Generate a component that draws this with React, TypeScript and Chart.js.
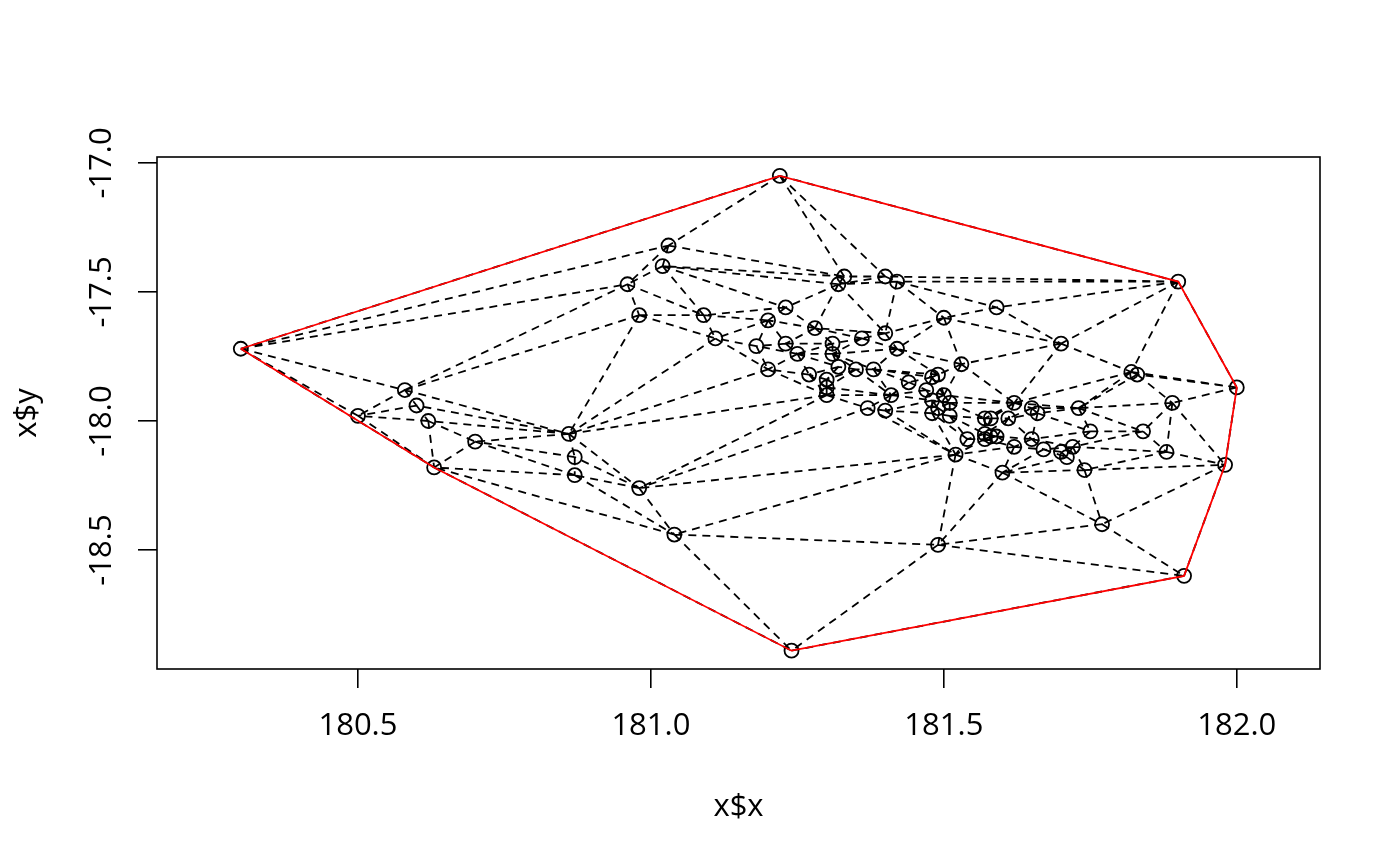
import React, { useEffect, useRef } from "react";
import { Chart, registerables } from "chart.js";
Chart.register(...registerables);

// Point coordinates (x$x, x$y)
const xs = [
  180.30, 180.50, 180.58, 180.60, 180.62, 180.63, 180.70, 180.86, 180.87, 180.87,
  180.96, 180.98, 181.02, 181.03, 180.98, 181.04, 181.09, 181.11, 181.18, 181.20,
  181.23, 181.22, 181.23, 181.25, 181.20, 181.27, 181.28, 181.24, 181.31, 181.31,
  181.32, 181.30, 181.30, 181.30, 181.32, 181.33, 181.35, 181.36, 181.38, 181.37,
  181.40, 181.42, 181.40, 181.42, 181.40, 181.41, 181.44, 181.50, 181.59, 181.53,
  181.48, 181.49, 181.47, 181.50, 181.48, 181.51, 181.48, 181.49, 181.51, 181.54,
  181.52, 181.49, 181.57, 181.58, 181.61, 181.57, 181.58, 181.57, 181.59, 181.60,
  181.62, 181.65, 181.66, 181.62, 181.65, 181.67, 181.70, 181.70, 181.72, 181.71,
  181.73, 181.74, 181.75, 181.77, 181.82, 181.83, 181.84, 181.88, 181.89, 181.90,
  181.91, 181.98, 182.00,
];
const ys = [
  -17.72, -17.98, -17.88, -17.94, -18.00, -18.18, -18.08, -18.05, -18.14, -18.21,
  -17.47, -17.59, -17.40, -17.32, -18.26, -18.44, -17.59, -17.68, -17.71, -17.61,
  -17.56, -17.05, -17.70, -17.74, -17.80, -17.82, -17.64, -18.89, -17.70, -17.74,
  -17.79, -17.84, -17.87, -17.90, -17.47, -17.44, -17.80, -17.68, -17.80, -17.95,
  -17.44, -17.46, -17.66, -17.72, -17.96, -17.90, -17.85, -17.60, -17.56, -17.78,
  -17.83, -17.82, -17.88, -17.90, -17.92, -17.93, -17.97, -17.95, -17.98, -18.07,
  -18.13, -18.48, -17.99, -17.99, -17.99, -18.05, -18.06, -18.07, -18.06, -18.20,
  -17.93, -17.95, -17.97, -18.10, -18.07, -18.11, -17.70, -18.12, -18.10, -18.14,
  -17.95, -18.19, -18.04, -18.40, -17.81, -17.82, -18.04, -18.12, -17.93, -17.46,
  -18.60, -18.17, -17.87,
];
const xTicks = [180.5, 181.0, 181.5, 182.0];
const yTicks = [-17.0, -17.5, -18.0, -18.5];
const xTitle = "x$x";
const yTitle = "x$y";

const FONT = "'Open Sans', 'Noto Sans', sans-serif";

type Tri = { a: number; b: number; c: number; cx: number; cy: number; r2: number };

function delaunayEdges(px: number[], py: number[]): [number, number][] {
  const n = px.length;
  const minX = Math.min(...px), maxX = Math.max(...px);
  const minY = Math.min(...py), maxY = Math.max(...py);
  const mx = (minX + maxX) / 2, my = (minY + maxY) / 2;
  const d = Math.max(maxX - minX, maxY - minY) * 1000;
  const X = px.map((v) => v - mx).concat([-d, 0, d]);
  const Y = py.map((v) => v - my).concat([-d, d, -d]);
  const mk = (a: number, b: number, c: number): Tri => {
    const ax = X[a], ay = Y[a], bx = X[b], by = Y[b], cx = X[c], cy = Y[c];
    const D = 2 * (ax * (by - cy) + bx * (cy - ay) + cx * (ay - by));
    const a2 = ax * ax + ay * ay, b2 = bx * bx + by * by, c2 = cx * cx + cy * cy;
    const ux = (a2 * (by - cy) + b2 * (cy - ay) + c2 * (ay - by)) / D;
    const uy = (a2 * (cx - bx) + b2 * (ax - cx) + c2 * (bx - ax)) / D;
    return { a, b, c, cx: ux, cy: uy, r2: (ax - ux) ** 2 + (ay - uy) ** 2 };
  };
  let tris: Tri[] = [mk(n, n + 1, n + 2)];
  for (let i = 0; i < n; i++) {
    const bad: Tri[] = [];
    const keep: Tri[] = [];
    for (const t of tris) {
      const dx = X[i] - t.cx, dy = Y[i] - t.cy;
      if (dx * dx + dy * dy < t.r2 * (1 - 1e-12)) bad.push(t);
      else keep.push(t);
    }
    const cnt = new Map<string, number>();
    const key = (u: number, v: number) => (u < v ? u + "," + v : v + "," + u);
    for (const t of bad) {
      for (const [u, v] of [[t.a, t.b], [t.b, t.c], [t.c, t.a]]) {
        const k = key(u, v);
        cnt.set(k, (cnt.get(k) || 0) + 1);
      }
    }
    for (const t of bad) {
      for (const [u, v] of [[t.a, t.b], [t.b, t.c], [t.c, t.a]]) {
        if (cnt.get(key(u, v)) === 1) keep.push(mk(u, v, i));
      }
    }
    tris = keep;
  }
  const seen = new Set<string>();
  const out: [number, number][] = [];
  for (const t of tris) {
    for (const [u, v] of [[t.a, t.b], [t.b, t.c], [t.c, t.a]]) {
      if (u >= n || v >= n) continue;
      const k = u < v ? u + "," + v : v + "," + u;
      if (!seen.has(k)) {
        seen.add(k);
        out.push([u, v]);
      }
    }
  }
  return out;
}

function convexHull(px: number[], py: number[]): number[] {
  const idx = px.map((_, i) => i).sort((a, b) => px[a] - px[b] || py[a] - py[b]);
  const cross = (o: number, a: number, b: number) =>
    (px[a] - px[o]) * (py[b] - py[o]) - (py[a] - py[o]) * (px[b] - px[o]);
  const lower: number[] = [];
  for (const i of idx) {
    while (lower.length >= 2 && cross(lower[lower.length - 2], lower[lower.length - 1], i) <= 0) lower.pop();
    lower.push(i);
  }
  const upper: number[] = [];
  for (let k = idx.length - 1; k >= 0; k--) {
    const i = idx[k];
    while (upper.length >= 2 && cross(upper[upper.length - 2], upper[upper.length - 1], i) <= 0) upper.pop();
    upper.push(i);
  }
  upper.pop();
  lower.pop();
  return lower.concat(upper);
}

const boxPlugin = {
  id: "rbox",
  afterDraw(chart: any) {
    const { ctx, chartArea } = chart;
    ctx.save();
    ctx.strokeStyle = "#000";
    ctx.lineWidth = 1.6;
    ctx.setLineDash([]);
    ctx.strokeRect(chartArea.left, chartArea.top, chartArea.right - chartArea.left, chartArea.bottom - chartArea.top);
    ctx.restore();
  },
};

export default function App() {
  const ref = useRef<HTMLCanvasElement>(null);
  useEffect(() => {
    document.body.style.margin = "0";
    const edges = delaunayEdges(xs, ys);
    const hull = convexHull(xs, ys);
    const edgeData: any[] = [];
    for (const [i, j] of edges) {
      edgeData.push({ x: xs[i], y: ys[i] }, { x: xs[j], y: ys[j] }, { x: xs[j], y: null });
    }
    const hullData = hull.concat([hull[0]]).map((i) => ({ x: xs[i], y: ys[i] }));
    const pts = xs.map((x, i) => ({ x, y: ys[i] }));

    const chart = new Chart(ref.current as HTMLCanvasElement, {
      type: "scatter",
      data: {
        datasets: [
          {
            type: "line",
            data: hullData,
            borderColor: "#ff0000",
            borderWidth: 1.8,
            pointRadius: 0,
            fill: false,
            tension: 0,
          } as any,
          {
            type: "line",
            data: edgeData,
            borderColor: "#000000",
            borderWidth: 1.8,
            borderDash: [8, 6],
            pointRadius: 0,
            fill: false,
            tension: 0,
            spanGaps: false,
          } as any,
          {
            type: "scatter",
            data: pts,
            pointStyle: "circle",
            pointRadius: 7,
            borderColor: "#000000",
            borderWidth: 1.8,
            backgroundColor: "rgba(0,0,0,0)",
          } as any,
        ],
      },
      options: {
        responsive: false,
        animation: false,
        devicePixelRatio: 1,
        events: [],
        layout: { padding: { left: 0, top: 157, right: 80, bottom: 0 } },
        plugins: { legend: { display: false }, tooltip: { enabled: false } },
        scales: {
          x: {
            type: "linear",
            min: 180.157,
            max: 182.142,
            afterBuildTicks: (s: any) => {
              s.ticks = xTicks.map((v) => ({ value: v }));
            },
            afterFit: (s: any) => {
              s.height = 197;
            },
            grid: { drawOnChartArea: false, drawTicks: true, tickLength: 19, color: "#000", lineWidth: 1.6 },
            border: { display: false },
            ticks: {
              font: { size: 31, family: FONT },
              color: "#000",
              padding: 20,
              autoSkip: false,
              minRotation: 0,
              maxRotation: 0,
              callback: (v: any) => Number(v).toFixed(1),
            },
            title: {
              display: true,
              text: xTitle,
              color: "#000",
              font: { size: 31, family: FONT },
              padding: { top: 0, bottom: 40 },
            },
          },
          y: {
            type: "linear",
            min: -18.961,
            max: -16.977,
            afterBuildTicks: (s: any) => {
              s.ticks = yTicks.map((v) => ({ value: v }));
            },
            afterFit: (s: any) => {
              s.width = 157;
            },
            grid: { drawOnChartArea: false, drawTicks: true, tickLength: 19, color: "#000", lineWidth: 1.6 },
            border: { display: false },
            ticks: {
              font: { size: 31, family: FONT },
              color: "#000",
              padding: 0,
              autoSkip: false,
              minRotation: 90,
              maxRotation: 90,
              crossAlign: "center",
              callback: (v: any) => Number(v).toFixed(1),
            },
            title: {
              display: true,
              text: yTitle,
              color: "#000",
              font: { size: 31, family: FONT },
              padding: { top: 9, bottom: 0 },
            },
          },
        },
      } as any,
      plugins: [boxPlugin],
    });
    return () => chart.destroy();
  }, []);
  return (
    <div style={{ width: 1400, height: 866 }}>
      <canvas ref={ref} width={1400} height={866} style={{ display: "block", width: 1400, height: 866 }} />
    </div>
  );
}
